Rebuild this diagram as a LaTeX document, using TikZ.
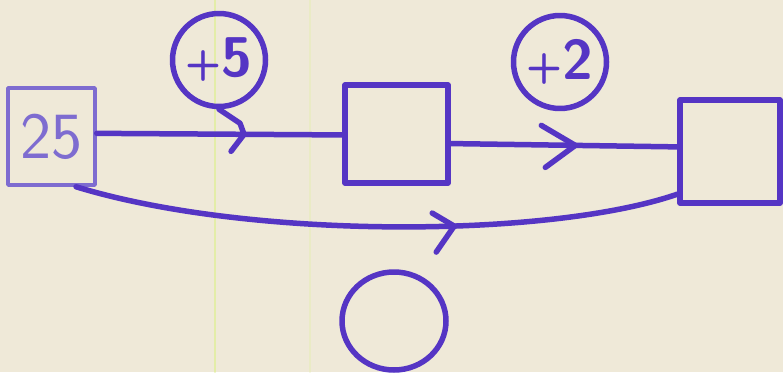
\documentclass[tikz,border=0pt]{standalone}
\usetikzlibrary{shapes.geometric}
\definecolor{ink}{HTML}{5535C4}
\definecolor{inklight}{HTML}{7E6CD0}
\definecolor{paper}{HTML}{EFE9D8}
\definecolor{streak}{HTML}{E3EDA8}
\begin{document}
\begin{tikzpicture}[x=1pt,y=-1pt, line cap=round, line join=round,
  pen/.style={draw=ink, line width=5.5pt},
  box/.style={pen, rectangle, inner sep=0pt},
  ring/.style={pen, circle, inner sep=0pt, minimum size=93pt},
  lbl/.style={font=\sffamily\bfseries\fontsize{56}{56}\selectfont, text=ink}]
\fill[paper] (0,0) rectangle (783,372);
\useasboundingbox (0,0) rectangle (783,372);
\draw[streak, line width=1.6pt] (215,0) -- (215,372);
\draw[streak!40!paper, line width=1.2pt] (310,0) -- (310,372);
% nodes
\node[draw=inklight, line width=3.5pt, rectangle, inner sep=0pt,
      minimum width=87pt, minimum height=97pt, text=inklight,
      font=\sffamily\fontsize{66}{66}\selectfont] (L) at (51.5,136.5) {25};
\node[box, minimum width=103pt, minimum height=98pt] (M) at (396.5,134) {};
\node[box, minimum width=100pt, minimum height=103pt] (R) at (730,151.5) {};
\node[ring, lbl] (c5) at (219,60) {{\fontsize{42}{42}\selectfont+}5};
\node[ring, lbl] (c2) at (560,62) {{\fontsize{42}{42}\selectfont+}2};
\node[pen, ellipse, inner sep=0pt, minimum width=104pt, minimum height=98pt] (cb) at (394,321) {};
% connectors
\draw[pen] (L.4) -- coordinate[pos=0.6] (m1) (M.181);
\draw[pen] (c5.south) -- ++(21,14) -- (m1) -- ++(-13,17);
\draw[pen] (M.-10) -- coordinate[pos=0.55] (m2) (R.175);
\draw[pen] (m2) ++(-34,-20) -- (m2) -- ++(-30,22);
\draw[pen] (L.-64) .. controls (250,240) and (550,238) .. coordinate[pos=0.59] (m3) (R.219);
\draw[pen] (m3) ++(-22,-13) -- (m3) -- ++(-18,26);
\end{tikzpicture}
\end{document}
